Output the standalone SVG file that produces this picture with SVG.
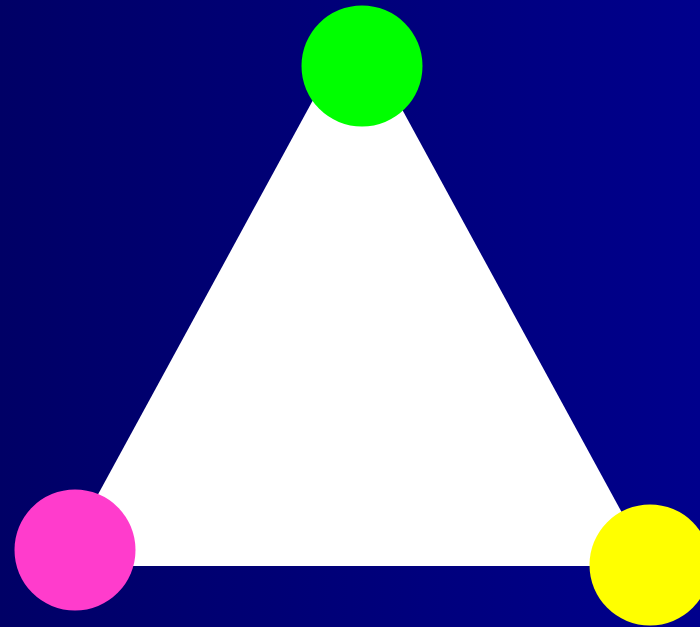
<svg xmlns="http://www.w3.org/2000/svg" width="700" height="627" viewBox="0 0 700 627">
  <defs>
    <linearGradient id="bg" x1="0" y1="0" x2="1" y2="0">
      <stop offset="0" stop-color="#000066"/>
      <stop offset="1" stop-color="#00008C"/>
    </linearGradient>
  </defs>
  <style>
    .node { stroke: none; }
  </style>
  <rect x="0" y="0" width="700" height="627" fill="url(#bg)"/>
  <g id="connectors">
    <polygon points="355,23 651,566 59,566" fill="#ffffff"/>
  </g>
  <g id="node-top">
    <circle class="node" cx="362" cy="66" r="60.5" fill="#00ff00"/>
  </g>
  <g id="node-left">
    <circle class="node" cx="75" cy="550" r="60.5" fill="#ff3ccc"/>
  </g>
  <g id="node-right">
    <circle class="node" cx="650" cy="565" r="60.5" fill="#ffff00"/>
  </g>
</svg>
